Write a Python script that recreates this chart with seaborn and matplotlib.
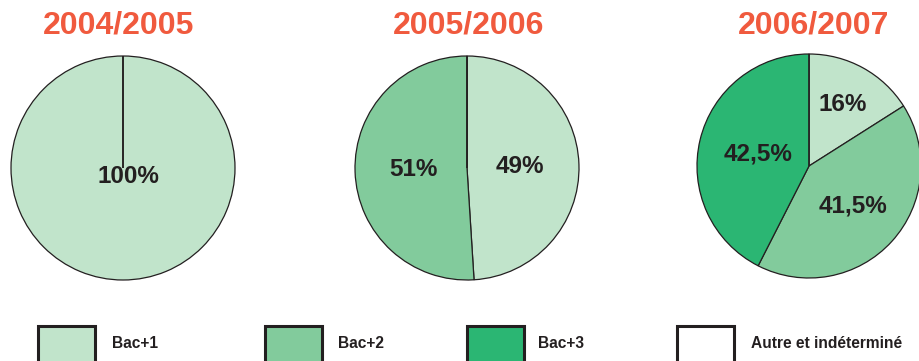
import matplotlib
matplotlib.use("Agg")
import matplotlib.pyplot as plt
from matplotlib.patches import Rectangle
import numpy as np
import seaborn as sns

# Share of students by level, per academic year
years = ["2004/2005", "2005/2006", "2006/2007"]
categories = ["Bac+1", "Bac+2", "Bac+3", "Autre et indéterminé"]
share_2004 = [100, 0, 0, 0]
share_2005 = [49, 51, 0, 0]
share_2006 = [16, 41.5, 42.5, 0]
shares = [share_2004, share_2005, share_2006]

colors = ["#c1e4cb", "#82cb9c", "#2bb673", "#ffffff"]
title_color = "#f05a3e"
ink = "#231f20"

sns.set_theme(style="white")
plt.rcParams["font.family"] = ["Liberation Sans", "DejaVu Sans"]

W, H = 919, 361
fig = plt.figure(figsize=(W / 100, H / 100), dpi=100)
fig.patch.set_facecolor("white")

# pie centres and radius in pixels (top-left origin)
centers = [(123, 168), (467, 168), (809, 166)]
R = 112
# radial position of each percentage label, as a fraction of the radius
label_dist = [[0.09, 0, 0, 0], [0.47, 0.48, 0, 0], [0.63, 0.53, 0.47, 0]]
title_x = [119, 469, 814]
title_y = 25


def fmt(v):
    s = f"{v:g}".replace(".", ",")
    return s + "%"


for year, vals, (cx, cy), dists, tx in zip(years, shares, centers, label_dist, title_x):
    ax = fig.add_axes([(cx - R) / W, (H - cy - R) / H, 2 * R / W, 2 * R / H])
    wedges, _ = ax.pie(
        vals,
        colors=colors,
        startangle=90,
        counterclock=False,
        radius=1,
        wedgeprops=dict(edgecolor=ink, linewidth=0.9),
        normalize=True,
    )
    ax.set_xlim(-1.0, 1.0)
    ax.set_ylim(-1.0, 1.0)
    ax.set_aspect("auto")
    ax.axis("off")
    for w, v, d in zip(wedges, vals, dists):
        if v <= 0:
            continue
        mid = np.deg2rad((w.theta1 + w.theta2) / 2)
        if v >= 100:
            x, y = 0.05, -0.08
        else:
            x, y = d * np.cos(mid), d * np.sin(mid)
        ax.text(x, y, fmt(v), ha="center", va="center", fontsize=17.5,
                fontweight="bold", color=ink)
    fig.text(tx / W, (H - title_y) / H, year, ha="center", va="center",
             fontsize=23, fontweight="bold", color=title_color)

# legend boxes along the bottom
box_left = [38, 265, 467, 677]
text_left = [112, 338, 538, 751]
box_w, box_top, box_h = 57, 326, 42
for cat, col, bx, tx in zip(categories, colors, box_left, text_left):
    fig.patches.append(Rectangle((bx / W, (H - box_top - box_h) / H), box_w / W, box_h / H,
                                 transform=fig.transFigure, facecolor=col,
                                 edgecolor=ink, linewidth=2.2))
    fig.text(tx / W, (H - 343) / H, cat, ha="left", va="center", fontsize=11.2,
             fontweight="bold", color=ink)

fig.savefig("out.png", dpi=100, facecolor="white")
